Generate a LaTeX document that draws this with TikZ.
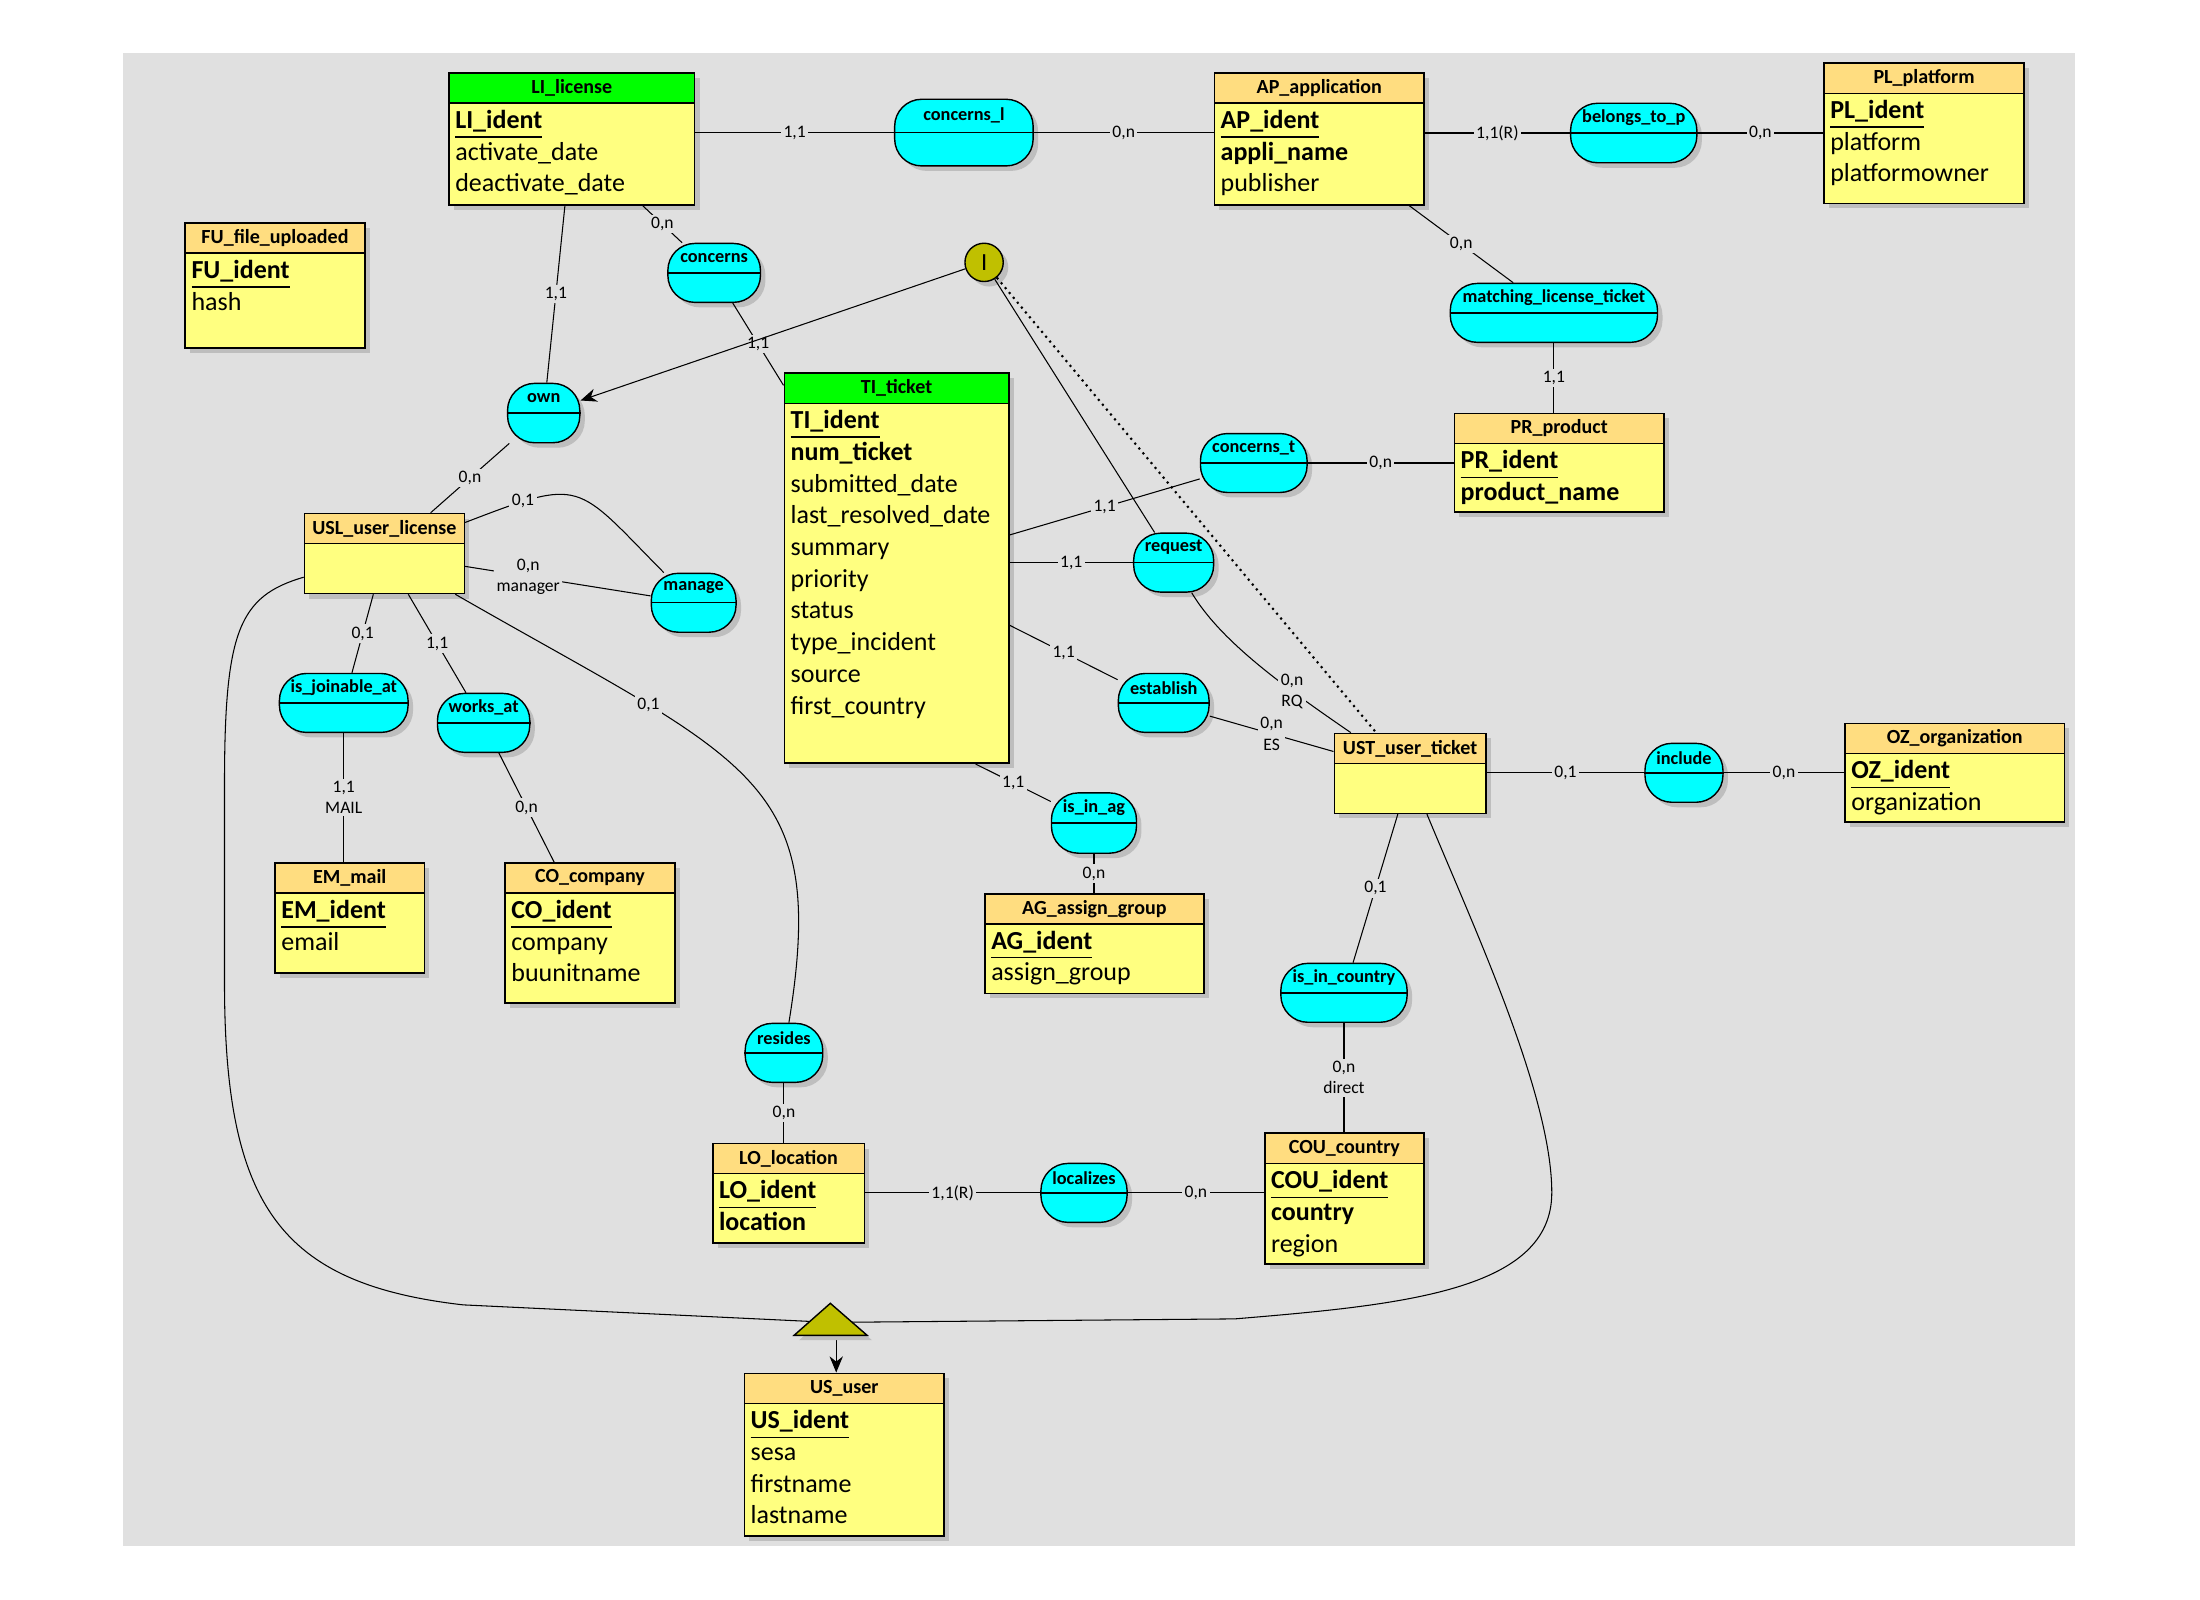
\documentclass[tikz,border=0pt]{standalone}
\usepackage{fontspec}
\setmainfont{Carlito}
\usepackage{tikz}
\usetikzlibrary{positioning, calc}
\usetikzlibrary{arrows.meta, shadows}

\definecolor{bggrey}{RGB}{224,224,224}
\definecolor{entbody}{RGB}{255,255,128}
\definecolor{enthead}{RGB}{255,221,128}
\definecolor{entgreen}{RGB}{0,255,0}
\definecolor{relcyan}{RGB}{0,255,255}
\definecolor{isaolive}{RGB}{192,192,0}
\definecolor{shadowgrey}{RGB}{190,190,190}

\newcommand{\un}{0.14031mm}
\newcommand{\keyattr}[1]{\underline{\textbf{#1}}}

\tikzset{
  boxshadow/.style={drop shadow={shadow xshift=0.5mm, shadow yshift=-0.5mm, fill=shadowgrey, opacity=1}},
  entbox/.style={draw, line width=0.45pt, fill=entbody, inner sep=0pt, boxshadow},
  enttitle/.style={inner sep=0pt, font=\fontsize{5.7}{6.5}\selectfont\bfseries},
  attrline/.style={anchor=base west, inner sep=0pt, font=\fontsize{7.4}{9}\selectfont},
  relbox/.style={draw, line width=0.4pt, fill=relcyan, rounded corners=2.7mm, inner sep=0pt, boxshadow},
  reltitle/.style={inner sep=0pt, font=\fontsize{5.2}{6}\selectfont\bfseries},
  icirc/.style={draw, circle, line width=0.4pt, fill=isaolive, minimum size=3.83mm, inner sep=0pt, boxshadow, font=\fontsize{7}{8}\selectfont},
  card/.style={fill=bggrey, inner sep=0.7pt, align=center, font=\fontsize{5}{6}\selectfont},
  link/.style={line width=0.3pt},
  tip/.style={-{Stealth[length=4.6pt, width=3.8pt]}}
}

% entity: name, x1, y1, x2, y2, header colour, title, attributes
\newcommand{\entity}[8]{%
  \node[entbox, minimum width={(#4-#2)*\un}, minimum height={(#5-#3)*\un}] (#1) at ({(#2+#4)/2},{(#3+#5)/2}) {};
  \filldraw[fill=#6, line width=0.45pt] (#2,#3) rectangle (#4,{#3+21.5});
  \node[enttitle] at ({(#2+#4)/2},{#3+10.75}) {#7};
  \foreach \atline [count=\k] in {#8}
    \node[attrline] at ({#2+4},{#3+39.5+(\k-1)*22.6}) {\atline};
}

% relation: name, x, y, width, height, label
\newcommand{\relation}[6]{%
  \node[relbox, minimum width={#4*\un}, minimum height={#5*\un}] (#1) at (#2,#3) {};
  \draw[line width=0.4pt] (#1.west) -- (#1.east);
  \node[reltitle] at ($(#1.center)!0.5!(#1.north)$) {#6};
}

\begin{document}
\begin{tikzpicture}[x=\un, y=-\un]
\useasboundingbox (0,0) rectangle (1568,1140);
\fill[white] (0,0) rectangle (1568,1140);
\fill[bggrey] (88,38) rectangle (1479,1102);

% entities
\entity{li}{320}{52}{495}{146}{entgreen}{LI\_license}{\keyattr{LI\_ident}, activate\_date, deactivate\_date}
\entity{fu}{132}{159}{260}{248}{enthead}{FU\_file\_uploaded}{\keyattr{FU\_ident}, hash}
\entity{ap}{865.5}{52}{1015}{146}{enthead}{AP\_application}{\keyattr{AP\_ident}, \textbf{appli\_name}, publisher}
\entity{pl}{1300}{45}{1442.6}{145}{enthead}{PL\_platform}{\keyattr{PL\_ident}, platform, platformowner}
\entity{pr}{1036.6}{294.6}{1186}{365}{enthead}{PR\_product}{\keyattr{PR\_ident}, \textbf{product\_name}}
\entity{ti}{559}{266}{719}{544}{entgreen}{TI\_ticket}{\keyattr{TI\_ident}, \textbf{num\_ticket}, submitted\_date, last\_resolved\_date, summary, priority, status, type\_incident, source, first\_country}
\entity{usl}{217}{366}{331}{423}{enthead}{USL\_user\_license}{}
\entity{em}{196}{615}{302.5}{693.5}{enthead}{EM\_mail}{\keyattr{EM\_ident}, email}
\entity{co}{360}{615}{481}{715}{enthead}{CO\_company}{\keyattr{CO\_ident}, company, buunitname}
\entity{ag}{702}{637}{858}{708}{enthead}{AG\_assign\_group}{\keyattr{AG\_ident}, assign\_group}
\entity{ust}{951}{522.7}{1059}{579.7}{enthead}{UST\_user\_ticket}{}
\entity{oz}{1315}{515.5}{1471.4}{586}{enthead}{OZ\_organization}{\keyattr{OZ\_ident}, organization}
\entity{lo}{508}{815}{616}{886}{enthead}{LO\_location}{\keyattr{LO\_ident}, \textbf{location}}
\entity{cou}{901.4}{807.7}{1015}{901}{enthead}{COU\_country}{\keyattr{COU\_ident}, \textbf{country}, region}
\entity{us}{530.5}{978.8}{673}{1094.7}{enthead}{US\_user}{\keyattr{US\_ident}, sesa, firstname, lastname}

% relations
\relation{concl}{687}{94.5}{98.7}{47.5}{concerns\_l}
\relation{belongs}{1164.4}{94.8}{90}{42.4}{belongs\_to\_p}
\relation{mlt}{1107.5}{223}{147.7}{42}{matching\_license\_ticket}
\relation{concerns}{509}{194.5}{66}{42}{concerns}
\relation{own}{387.5}{294.4}{51.5}{42.3}{own}
\relation{concernst}{893.6}{330}{76}{42}{concerns\_t}
\relation{request}{836.5}{401}{57}{42}{request}
\relation{establish}{829.4}{501}{64.7}{42}{establish}
\relation{isag}{779.7}{586.6}{60.6}{43}{is\_in\_ag}
\relation{manage}{494.4}{429.6}{60.4}{42}{manage}
\relation{isj}{245}{501}{91.7}{42}{is\_joinable\_at}
\relation{worksat}{344.7}{515.2}{65.8}{42}{works\_at}
\relation{include}{1200.2}{550.8}{55.6}{42}{include}
\relation{isc}{957.9}{707.6}{90}{42}{is\_in\_country}
\relation{resides}{558.75}{750.4}{55.3}{42}{resides}
\relation{localizes}{772.6}{850.2}{61.4}{42}{localizes}

\node[icirc] (ci) at (701.4,187) {I};

% links
\draw[link] (li.east |- concl) -- (concl) node[card, midway] {1,1};
\draw[link] (concl) -- (concl -| ap.west) node[card, midway] {0,n};
\draw[link] (ap.east |- belongs) -- (belongs) node[card, midway] {1,1(R)};
\draw[link] (belongs) -- (belongs -| pl.west) node[card, midway] {0,n};
\draw[link] (ap) -- (mlt) node[card, midway] {0,n};
\draw[link] (mlt) -- (mlt |- pr.north) node[card, midway] {1,1};
\draw[link] (li) -- (concerns) node[card, midway] {0,n};
\draw[link] (concerns) -- (ti) node[card, midway] {1,1};
\draw[link] (li) -- (own) node[card, midway] {1,1};
\draw[link] (own) -- (usl) node[card, midway] {0,n};
\draw[link] (ti) -- (concernst) node[card, midway] {1,1};
\draw[link] (concernst) -- (concernst -| pr.west) node[card, midway] {0,n};
\draw[link] (ti.east |- request) -- (request) node[card, midway] {1,1};
\draw[link] (request) .. controls (870,457) and (914.5,489) .. (ust) node[card, pos=0.7] {0,n\\RQ};
\draw[link] (ti) -- (establish) node[card, midway] {1,1};
\draw[link] (establish) -- (ust) node[card, midway] {0,n\\ES};
\draw[link] (ti.-68) -- (isag) node[card, midway] {1,1};
\draw[link] (isag) -- (isag |- ag.north) node[card, midway] {0,n};
\draw[link] (usl) .. controls (416.5,339.7) and (409.4,343.7) .. (manage) node[card, pos=0.2] {0,1};
\draw[link] (usl) -- (manage) node[card, pos=0.34] {0,n\\manager};
\draw[link] (usl) -- (isj) node[card, midway] {0,1};
\draw[link] (isj) -- (isj |- em.north) node[card, midway] {1,1\\MAIL};
\draw[link] (usl) -- (worksat) node[card, midway] {1,1};
\draw[link] (worksat) -- (co) node[card, midway] {0,n};
\draw[link] (usl) .. controls (534,544) and (591,553) .. (resides) node[card, pos=0.27] {0,1};
\draw[link] (resides) -- (resides |- lo.north) node[card, midway] {0,n};
\draw[link] (lo.east |- localizes) -- (localizes) node[card, midway] {1,1(R)};
\draw[link] (localizes) -- (localizes -| cou.west) node[card, midway] {0,n};
\draw[link] (ust) -- (isc) node[card, midway] {0,1};
\draw[link] (isc) -- (isc |- cou.north) node[card, midway] {0,n\\direct};
\draw[link] (ust.east |- include) -- (include) node[card, midway] {0,1};
\draw[link] (include) -- (include -| oz.west) node[card, midway] {0,n};

% constraint I
\draw[link, tip] (ci) -- (own);
\draw[link] (ci) -- (request);
\draw[line width=0.6pt, dash pattern=on 0.6pt off 1.2pt] (ci) -- (ust);

% inheritance
\coordinate (isa) at (592,942.5);
\coordinate (isab) at (596,951.7);
\draw[link] (usl) .. controls (170,425) and (160,450) .. (160,560) -- (160,700) .. controls (160,860) and (200,915) .. (330,930) -- (isa);
\draw[link] (ust) .. controls (1050,660) and (1106,780) .. (1106,850) .. controls (1106,920) and (1000,930) .. (880,940) -- (isa);
\draw[link, tip] (isab) -- (isab |- us.north);
\fill[shadowgrey] (569.5,955.2) -- (595.3,932.4) -- (621.5,955.2) -- cycle;
\filldraw[fill=isaolive, line width=0.4pt] (566,951.7) -- (591.8,928.9) -- (618,951.7) -- cycle;
\end{tikzpicture}
\end{document}
